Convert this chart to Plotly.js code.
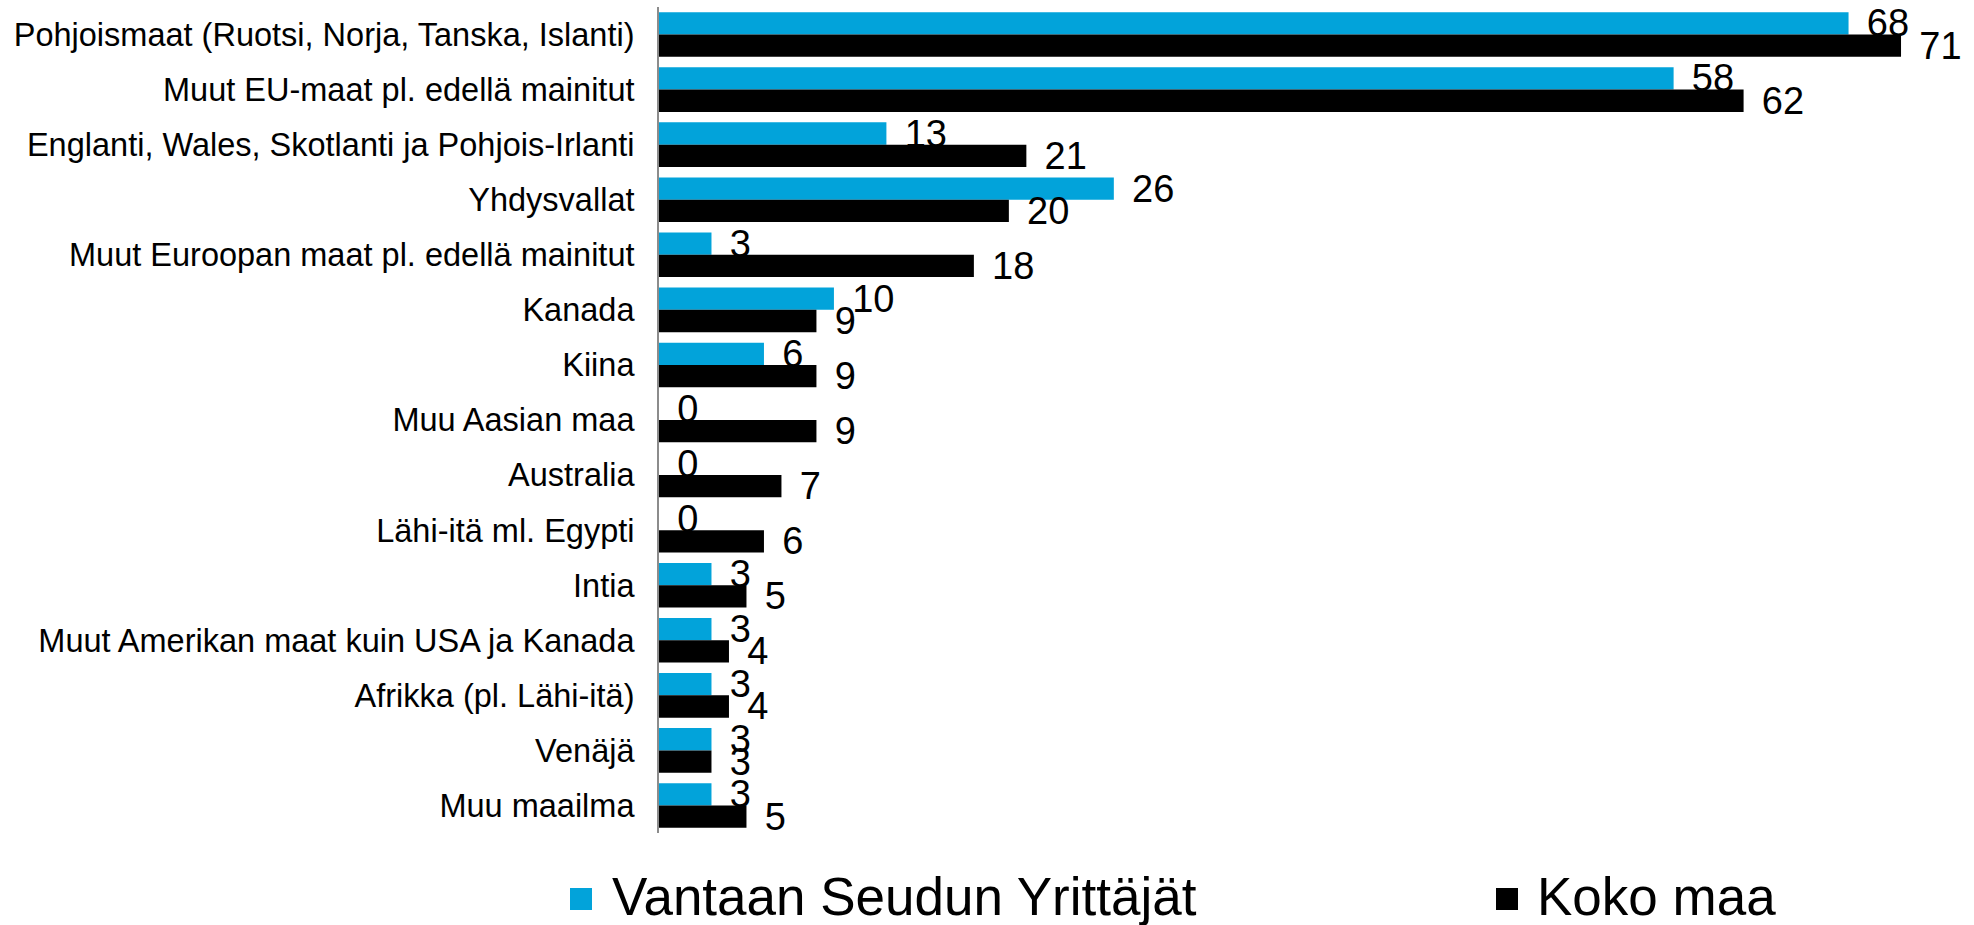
<!DOCTYPE html>
<html>
<head>
<meta charset="utf-8">
<script src="https://cdn.plot.ly/plotly-3.0.1.min.js"></script>
<style>html,body{margin:0;padding:0;background:#fff;}#chart{width:1974px;height:925px;}</style>
</head>
<body>
<div id="chart"></div>
<script>
const categories = [
  "Pohjoismaat (Ruotsi, Norja, Tanska, Islanti)",
  "Muut EU-maat pl. edellä mainitut",
  "Englanti, Wales, Skotlanti ja Pohjois-Irlanti",
  "Yhdysvallat",
  "Muut Euroopan maat pl. edellä mainitut",
  "Kanada",
  "Kiina",
  "Muu Aasian maa",
  "Australia",
  "Lähi-itä ml. Egypti",
  "Intia",
  "Muut Amerikan maat kuin USA ja Kanada",
  "Afrikka (pl. Lähi-itä)",
  "Venäjä",
  "Muu maailma"
];
const seriesNames = ["Vantaan Seudun Yrittäjät", "Koko maa"];
const vantaa = [68, 58, 13, 26, 3, 10, 6, 0, 0, 0, 3, 3, 3, 3, 3];
const kokoMaa = [71, 62, 21, 20, 18, 9, 9, 9, 7, 6, 5, 4, 4, 3, 5];
const colors = ["#02A3DA", "#000000"];

const W = 1974, H = 925;
const M = {l: 659, r: 3, t: 7, b: 92};
const pw = W - M.l - M.r, ph = H - M.t - M.b;
const px = x => (x - M.l) / pw;
const py = y => (H - M.b - y) / ph;

const FONT = "Liberation Sans, Arial, sans-serif";

function barTrace(name, vals, color) {
  return {
    type: "bar", orientation: "h", name: name,
    y: categories, x: vals,
    marker: {color: color},
    texttemplate: "\u2009\u2009%{x}",
    textposition: "outside",
    constraintext: "none",
    cliponaxis: false,
    textfont: {family: FONT, size: 38, color: "#000"},
    hoverinfo: "x+y"
  };
}

const data = [
  barTrace(seriesNames[0], vantaa, colors[0]),
  barTrace(seriesNames[1], kokoMaa, colors[1])
];

// manual legend
const legendItems = [
  {sq: [570, 592], tx: 611},
  {sq: [1496, 1518], tx: 1536}
];
const shapes = [], annotations = [];
legendItems.forEach((it, i) => {
  shapes.push({type: "rect", xref: "paper", yref: "paper",
    x0: px(it.sq[0]), x1: px(it.sq[1]), y0: py(910), y1: py(888),
    fillcolor: colors[i], line: {width: 0}});
  annotations.push({xref: "paper", yref: "paper", x: px(it.tx), y: py(896),
    xanchor: "left", yanchor: "middle", showarrow: false, text: seriesNames[i],
    borderpad: 0,
    font: {family: FONT, size: 53, color: "#000"}});
});

const layout = {
  width: W, height: H,
  margin: M,
  paper_bgcolor: "#fff", plot_bgcolor: "#fff",
  barmode: "group", bargap: 0.19, bargroupgap: 0,
  showlegend: false,
  xaxis: {range: [0, 75], visible: false, fixedrange: true},
  yaxis: {type: "category", autorange: "reversed", showline: true,
    linecolor: "#8c8c8c", linewidth: 2, ticks: "", showgrid: false, zeroline: false,
    ticklabelstandoff: 16, automargin: false,
    tickfont: {family: FONT, size: 32.5, color: "#000"}},
  shapes: shapes,
  annotations: annotations
};

Plotly.newPlot("chart", data, layout, {displayModeBar: false, staticPlot: true});
</script>
</body>
</html>
